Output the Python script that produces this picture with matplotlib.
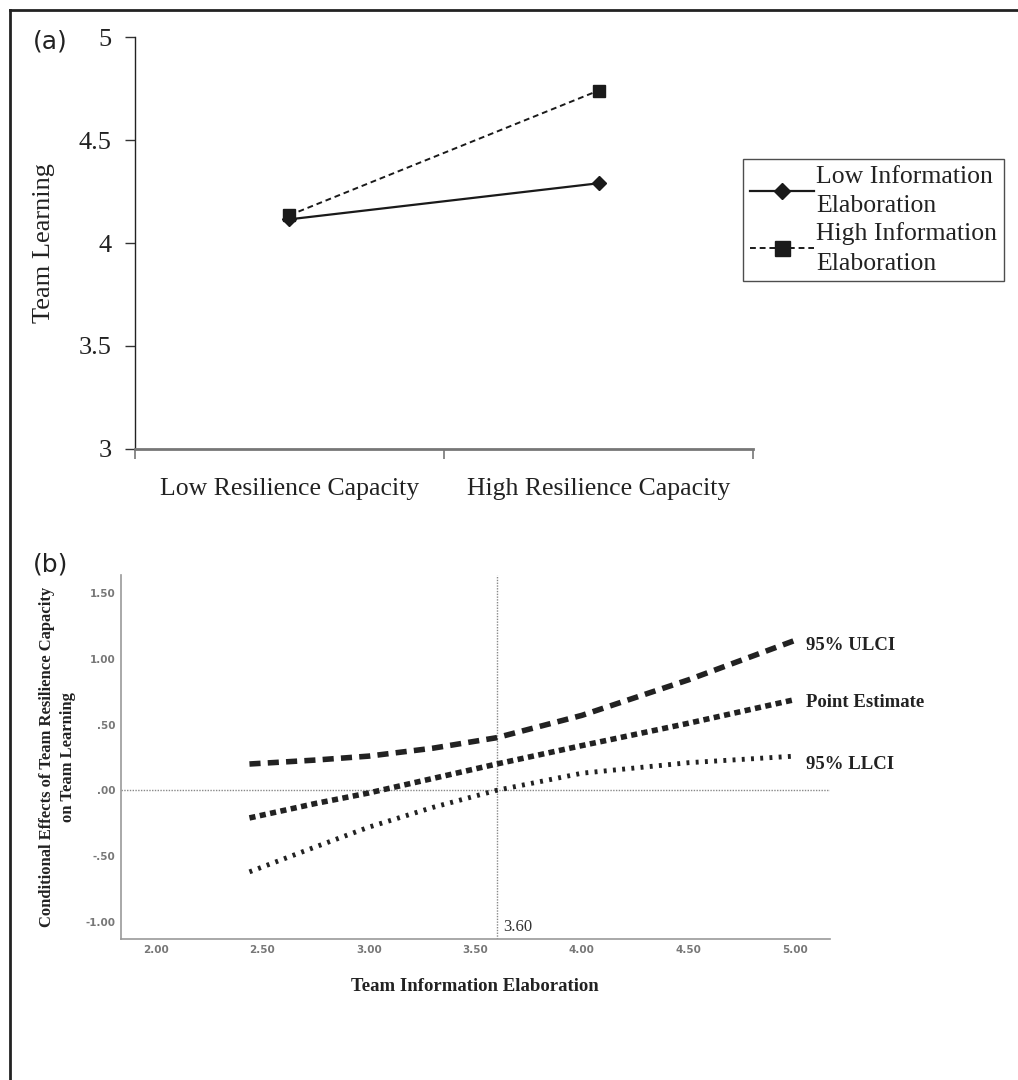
import matplotlib
matplotlib.use("Agg")
import matplotlib.pyplot as plt
from matplotlib.lines import Line2D

# panel (a) data
rc_levels = ["Low Resilience Capacity", "High Resilience Capacity"]
low_info = [4.115, 4.29]
high_info = [4.135, 4.74]

# panel (b) data (Johnson-Neyman plot)
elab = [2.44, 2.75, 3.00, 3.30, 3.60, 4.00, 4.50, 5.00]
point_est = [-0.21, -0.10, -0.02, 0.09, 0.20, 0.34, 0.51, 0.69]
ulci = [0.20, 0.23, 0.26, 0.32, 0.40, 0.57, 0.84, 1.14]
llci = [-0.62, -0.43, -0.28, -0.13, 0.00, 0.13, 0.21, 0.26]
jn_point = 3.60

serif = "Liberation Serif"
ink = "#222222"

fig = plt.figure(figsize=(10.18, 10.8), dpi=100)

# outer frame (left and top lines)
fig.add_artist(Line2D([0.0098, 0.0098], [0.0, 0.9907], color=ink, lw=2, transform=fig.transFigure))
fig.add_artist(Line2D([0.0098, 1.0], [0.9907, 0.9907], color=ink, lw=2, transform=fig.transFigure))

# ---------- panel (a)
ax1 = fig.add_axes([0.1326, 0.5843, 0.6071, 0.3814])
xpos = [0.5, 1.5]
ax1.plot(xpos, low_info, color="#1a1a1a", lw=1.6, marker="D", markersize=7,
         label="Low Information\nElaboration")
ax1.plot(xpos, high_info, color="#1a1a1a", lw=1.4, ls=(0, (3, 2)), marker="s", markersize=9,
         label="High Information\nElaboration")
ax1.set_xlim(0, 2)
ax1.set_ylim(3, 5)
ax1.set_yticks([3, 3.5, 4, 4.5, 5])
ax1.set_yticklabels(["3", "3.5", "4", "4.5", "5"], fontfamily=serif, fontsize=19, color=ink)
ax1.set_xticks([0, 1, 2])
ax1.set_xticklabels([])
ax1.set_xticks(xpos, minor=True)
ax1.set_xticklabels(rc_levels, minor=True, fontfamily=serif, fontsize=18.5, color=ink)
ax1.tick_params(axis="x", which="minor", length=0, pad=21)
ax1.tick_params(axis="x", which="major", length=7, color="#777777", width=1.2, direction="out")
ax1.tick_params(axis="y", length=7, width=1, color="#333333", pad=10)
for s in ["top", "right"]:
    ax1.spines[s].set_visible(False)
ax1.spines["bottom"].set_color("#777777")
ax1.spines["bottom"].set_linewidth(2)
ax1.spines["left"].set_color(ink)
ax1.spines["left"].set_linewidth(1)
ax1.set_ylabel("Team Learning", fontfamily=serif, fontsize=19, color=ink, labelpad=17)
leg = ax1.legend(loc="center left", bbox_to_anchor=(0.984, 0.555), frameon=True, fancybox=False,
                 prop={"family": serif, "size": 18.5}, handlelength=2.5, handletextpad=0.1,
                 borderpad=0.25, labelspacing=0.2, borderaxespad=0, markerscale=1.2)
leg.get_frame().set_edgecolor(ink)
leg.get_frame().set_linewidth(1)
for t in leg.get_texts():
    t.set_color(ink)
    t.set_linespacing(1.45)
fig.text(0.032, 0.955, "(a)", fontsize=18, color=ink)

# ---------- panel (b)
ax2 = fig.add_axes([0.1186, 0.1306, 0.6967, 0.337])
ax2.axhline(0, color="#888888", lw=1, ls=(0, (1, 1)))
ax2.axvline(jn_point, color="#888888", lw=1, ls=(0, (1, 1)))
ax2.plot(elab, ulci, color=ink, lw=4, ls=(0, (2.0, 1.3)))
ax2.plot(elab, point_est, color=ink, lw=4, ls=(0, (1.1, 0.8)))
ax2.plot(elab, llci, color=ink, lw=3.5, ls=(0, (0.6, 1.3)))
ax2.set_xlim(1.836, 5.164)
ax2.set_ylim(-1.13, 1.637)
ax2.set_xticks([2.0, 2.5, 3.0, 3.5, 4.0, 4.5, 5.0])
ax2.set_xticklabels(["2.00", "2.50", "3.00", "3.50", "4.00", "4.50", "5.00"])
ax2.set_yticks([-1.0, -0.5, 0.0, 0.5, 1.0, 1.5])
ax2.set_yticklabels(["-1.00", "-.50", ".00", ".50", "1.00", "1.50"])
ax2.tick_params(length=0, labelsize=7.5, labelcolor="#777777", pad=4)
for lab in ax2.get_xticklabels() + ax2.get_yticklabels():
    lab.set_fontweight("bold")
for s in ["top", "right"]:
    ax2.spines[s].set_visible(False)
for s in ["left", "bottom"]:
    ax2.spines[s].set_color("#999999")
    ax2.spines[s].set_linewidth(1.2)

labels_b = ["95% ULCI", "Point Estimate", "95% LLCI"]
label_y = [ulci[-1] - 0.04, point_est[-1] - 0.02, llci[-1] - 0.06]
for txt, yy in zip(labels_b, label_y):
    ax2.text(5.05, yy, txt, fontfamily=serif, fontweight="bold", fontsize=13.5,
             color=ink, va="center", clip_on=False)
ax2.text(jn_point + 0.03, -1.07, "3.60", fontfamily=serif, fontsize=12, color="#333333")
ax2.set_ylabel("Conditional Effects of Team Resilience Capacity\non Team Learning",
               fontfamily=serif, fontweight="bold", fontsize=12, color=ink, linespacing=1.4)
ax2.yaxis.set_label_coords(-0.063, 0.5)
ax2.set_xlabel("Team Information Elaboration", fontfamily=serif, fontweight="bold",
               fontsize=13.5, color=ink, labelpad=17)
fig.text(0.032, 0.471, "(b)", fontsize=18, color=ink)

fig.savefig("out.png", dpi=100)
